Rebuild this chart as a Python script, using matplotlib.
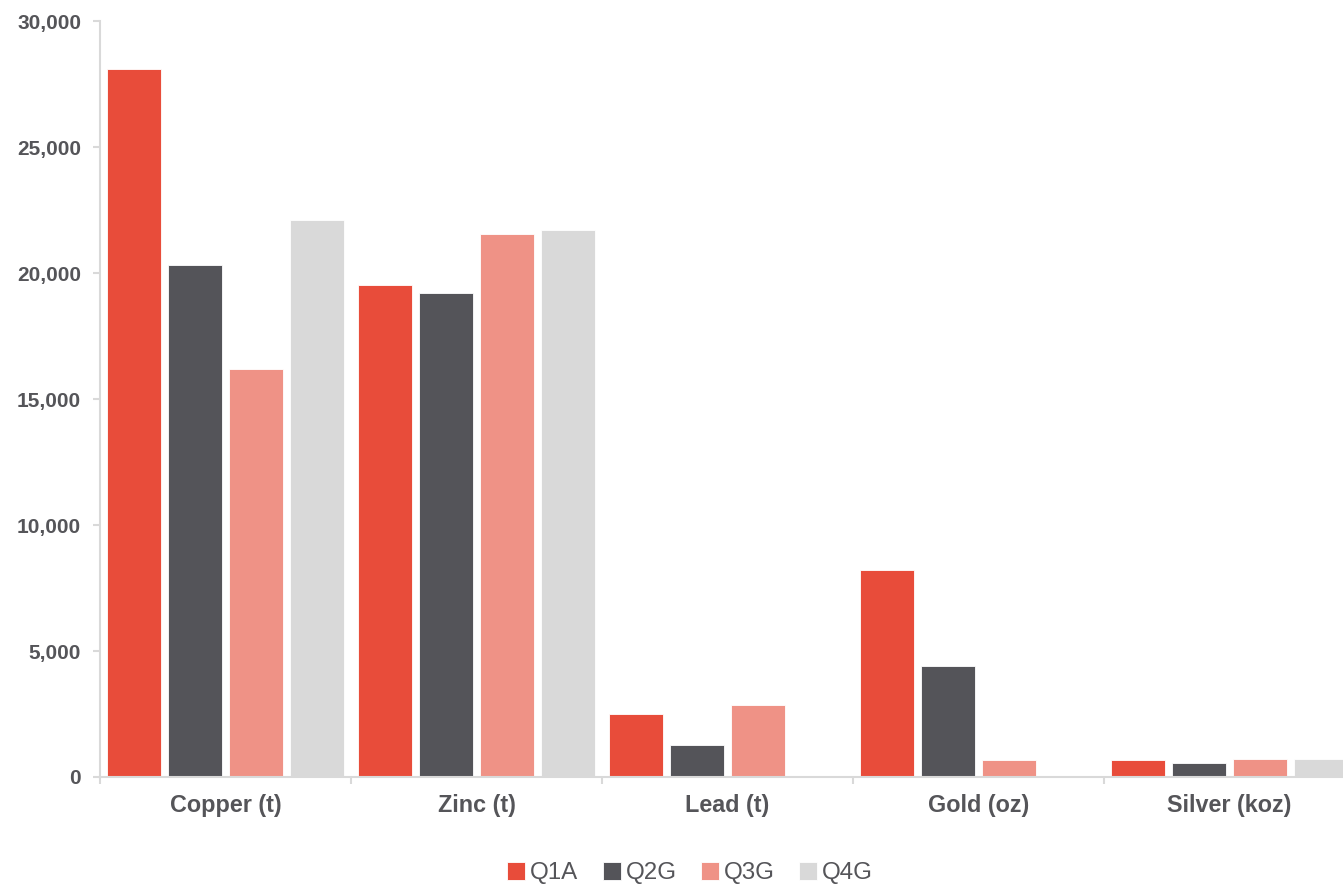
import matplotlib
matplotlib.use("Agg")
import matplotlib.pyplot as plt
import numpy as np
from matplotlib.ticker import FuncFormatter, MultipleLocator, FixedLocator

categories = ["Copper (t)", "Zinc (t)", "Lead (t)", "Gold (oz)", "Silver (koz)"]
series_names = ["Q1A", "Q2G", "Q3G", "Q4G"]
q1a = [28080, 19540, 2500, 8220, 680]
q2g = [20330, 19220, 1270, 4400, 570]
q3g = [16200, 21560, 2860, 680, 720]
q4g = [22110, 21720, 0, 0, 720]
colors = ["#e84c3a", "#545459", "#ef9286", "#d9d9d9"]

plt.rcParams["font.family"] = ["Liberation Sans", "DejaVu Sans"]

W, H = 1343, 884
fig = plt.figure(figsize=(W / 100, H / 100), dpi=100)
left_px, right_px, top_px, bot_px = 100, 1355, 21, 777
ax = fig.add_axes([left_px / W, 1 - bot_px / H, (right_px - left_px) / W, (bot_px - top_px) / H])

x = np.arange(len(categories))
pitch = 0.243
width = 0.212
values = [q1a, q2g, q3g, q4g]
for i, (vals, c, name) in enumerate(zip(values, colors, series_names)):
    ax.bar(x + (i - 1.5) * pitch, vals, width=width, color=c, label=name,
           edgecolor="white", linewidth=0.6, zorder=2)

ax.set_xlim(-0.5, len(categories) - 0.5)
ax.set_ylim(0, 30000)
ax.yaxis.set_major_locator(MultipleLocator(5000))
ax.yaxis.set_major_formatter(FuncFormatter(lambda v, p: f"{int(v):,}"))

ax.set_xticks(x)
ax.set_xticklabels(categories)
ax.xaxis.set_minor_locator(FixedLocator(np.arange(-0.5, len(categories), 1.0)))
ax.tick_params(axis="x", which="major", length=0, pad=12)
ax.tick_params(axis="x", which="minor", length=5, color="#d9d9d9", width=1.5)
ax.tick_params(axis="y", length=5, color="#d9d9d9", width=1.5, pad=8.5)

for lbl in ax.get_xticklabels() + ax.get_yticklabels():
    lbl.set_fontweight("bold")
    lbl.set_color("#555559")
for lbl in ax.get_xticklabels():
    lbl.set_fontsize(16.8)
for lbl in ax.get_yticklabels():
    lbl.set_fontsize(15)

for side in ["top", "right"]:
    ax.spines[side].set_visible(False)
for side in ["left", "bottom"]:
    ax.spines[side].set_color("#d9d9d9")
    ax.spines[side].set_linewidth(1.5)

leg = fig.legend(loc="center", bbox_to_anchor=(690 / W, 1 - 873 / H), ncol=4,
                 frameon=False, fontsize=17.4, handlelength=0.75, handleheight=0.75,
                 handletextpad=0.2, columnspacing=1.0)
for t in leg.get_texts():
    t.set_color("#555559")

fig.savefig("out.png", dpi=100)
